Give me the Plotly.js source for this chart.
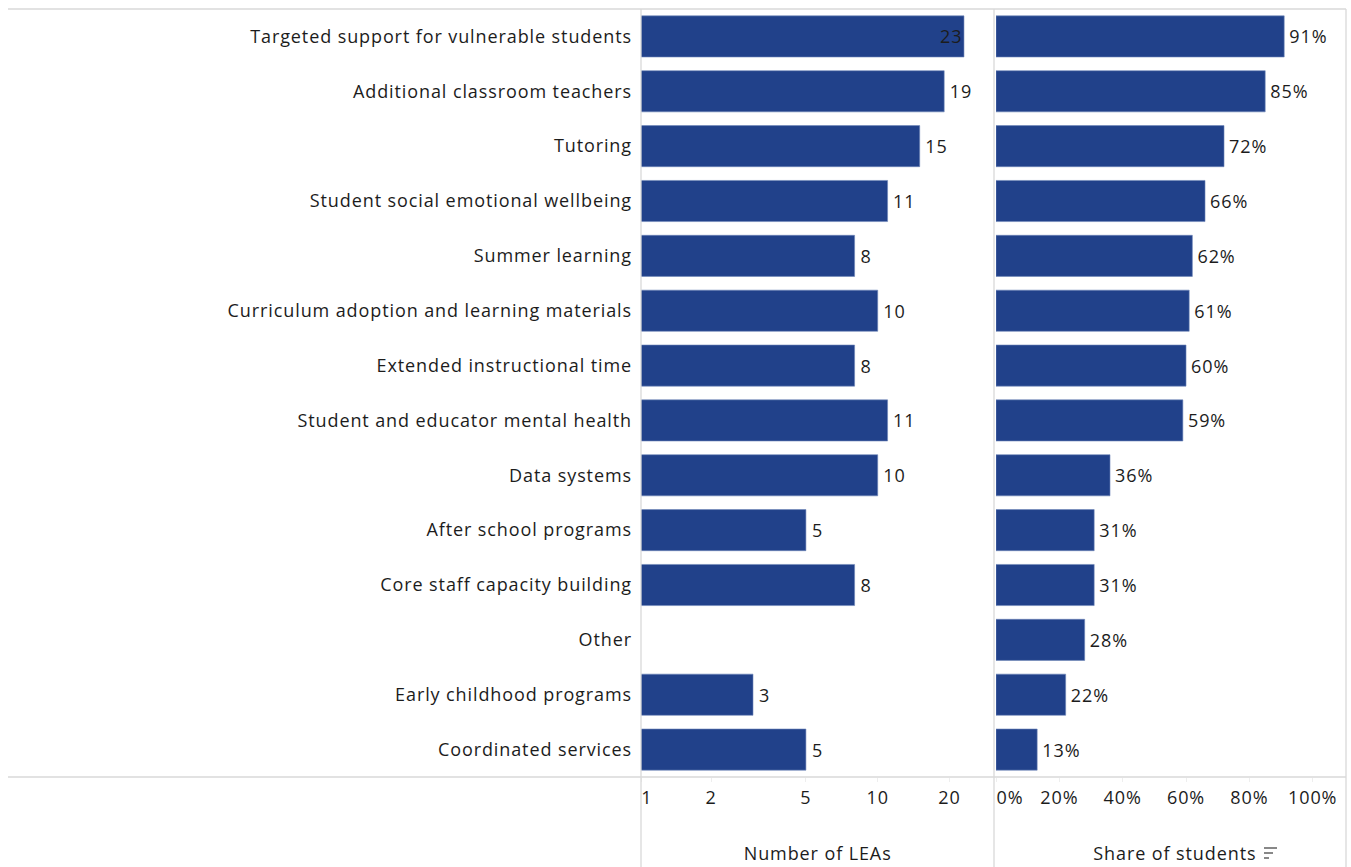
<!DOCTYPE html>
<html>
<head>
<meta charset="utf-8">
<script src="https://cdn.plot.ly/plotly-3.0.1.min.js"></script>
<style>
html,body{margin:0;padding:0;background:#fff;}
#chart{width:1351px;height:867px;}
#chart svg text{letter-spacing:0.9px;}
</style>
</head>
<body>
<div id="chart"></div>
<script>
const categories = [
  "Targeted support for vulnerable students",
  "Additional classroom teachers",
  "Tutoring",
  "Student social emotional wellbeing",
  "Summer learning",
  "Curriculum adoption and learning materials",
  "Extended instructional time",
  "Student and educator mental health",
  "Data systems",
  "After school programs",
  "Core staff capacity building",
  "Other",
  "Early childhood programs",
  "Coordinated services"
];
const numberOfLEAs = [23, 19, 15, 11, 8, 10, 8, 11, 10, 5, 8, null, 3, 5];
const shareOfStudents = [91, 85, 72, 66, 62, 61, 60, 59, 36, 31, 31, 28, 22, 13];
const leaTickVals = [1.02, 2, 5, 10, 20];
const leaTickText = ["\u00a0\u00a01", "2", "5", "10", "20"];
const shareTickVals = [0, 20, 40, 60, 80, 100];
const shareTickText = ["\u00a0\u00a0\u00a0\u00a0\u00a00%", "20%", "40%", "60%", "80%", "100%"];

const W = 1351, H = 867;
const barColor = "#21418a";
const lineColor = "#d9d9d9";
const FONT = "'Open Sans', sans-serif";
const FS = 18;
const TC = "#1c1c1c";

const leaText = numberOfLEAs.map(v => v == null ? "" : "\u2009" + v);
const leaPos = numberOfLEAs.map(v => (v != null && v >= 22) ? "inside" : "outside");
const shareText = shareOfStudents.map(v => "\u2009" + v + "%");

const traces = [
  {
    type: "bar", orientation: "h",
    y: categories, x: numberOfLEAs,
    xaxis: "x", yaxis: "y",
    marker: {color: barColor, line: {color: "#6f86b8", width: 0.6}},
    text: leaText, textposition: leaPos, insidetextanchor: "end",
    textfont: {color: TC, size: FS, family: FONT},
    insidetextfont: {color: TC, size: FS, family: FONT},
    outsidetextfont: {color: TC, size: FS, family: FONT},
    constraintext: "none", cliponaxis: false, hoverinfo: "x+y"
  },
  {
    type: "bar", orientation: "h",
    y: categories, x: shareOfStudents,
    xaxis: "x2", yaxis: "y2",
    marker: {color: barColor, line: {color: "#6f86b8", width: 0.6}},
    text: shareText, textposition: "outside",
    textfont: {color: TC, size: FS, family: FONT},
    constraintext: "none", cliponaxis: false, hoverinfo: "x+y"
  }
];

const px = x => x / W;
const plotTop = 9, plotBot = 777;
const plotH = plotBot - plotTop;
const py = y => (plotBot - y) / plotH;

const leftX0 = 641, leftX1 = 994, rightX0 = 996, rightX1 = 1346;
const logSlope = 238.5, logStart = 0.0075;
const leaRange = [logStart, logStart + (leftX1 - leftX0) / logSlope];
const pctPerPx = 100 / 316.7;
const shareRange = [0, (rightX1 - rightX0) * pctPerPx];

const shapes = [];
function hline(x0, x1, y) {
  shapes.push({type: "line", xref: "paper", yref: "paper", x0: px(x0), x1: px(x1), y0: py(y), y1: py(y),
    line: {color: lineColor, width: 1.3}});
}
function vline(x, y0, y1) {
  shapes.push({type: "line", xref: "paper", yref: "paper", x0: px(x), x1: px(x), y0: py(y0), y1: py(y1),
    line: {color: lineColor, width: 1.3}});
}
hline(8, 1346, 9);
hline(8, 1346, 777);
vline(leftX0, 9, 867);
vline(leftX1, 9, 867);
vline(rightX1, 9, 867);
// sort icon next to "Share of students"
const iconX = 1264, iconY = 848;
[[0, 13], [0, 9], [0, 5]].forEach((s, i) => {
  shapes.push({type: "line", xref: "paper", yref: "paper",
    x0: px(iconX + s[0]), x1: px(iconX + s[1]), y0: py(iconY + i * 5), y1: py(iconY + i * 5),
    line: {color: "#555", width: 1.4}});
});

const tickFont = {size: FS, color: TC, family: FONT};
const layout = {
  width: W, height: H,
  margin: {l: 0, r: 0, t: plotTop, b: H - plotBot, pad: 0},
  paper_bgcolor: "#fff", plot_bgcolor: "rgba(0,0,0,0)",
  showlegend: false,
  bargap: 0.25,
  font: {family: FONT, color: TC, size: FS},
  xaxis: {
    domain: [px(leftX0), px(leftX1)], type: "log", range: leaRange,
    tickvals: leaTickVals, ticktext: leaTickText,
    showgrid: false, zeroline: false, showline: false,
    ticks: "outside", ticklen: 4, tickcolor: "#eeeeee",
    tickfont: tickFont, fixedrange: true
  },
  xaxis2: {
    domain: [px(rightX0), px(rightX1)], range: shareRange, anchor: "y2",
    tickvals: shareTickVals, ticktext: shareTickText,
    showgrid: false, zeroline: false, showline: false,
    ticks: "outside", ticklen: 4, tickcolor: "#eeeeee",
    tickfont: tickFont, fixedrange: true
  },
  yaxis: {
    type: "category", categoryorder: "array", categoryarray: categories,
    autorange: "reversed", showgrid: false, zeroline: false, showline: false,
    ticks: "", ticklabelstandoff: 8,
    tickfont: tickFont, fixedrange: true
  },
  yaxis2: {
    type: "category", categoryorder: "array", categoryarray: categories,
    autorange: "reversed", anchor: "x2", matches: "y",
    showticklabels: false, showgrid: false, zeroline: false, showline: false, fixedrange: true
  },
  annotations: [
    {text: "Number of LEAs", xref: "paper", yref: "paper", x: px((leftX0 + leftX1) / 2), y: py(853),
      xanchor: "center", yanchor: "middle", showarrow: false, font: tickFont},
    {text: "Share of students", xref: "paper", yref: "paper", x: px(1251), y: py(853),
      xanchor: "right", yanchor: "middle", showarrow: false, font: tickFont}
  ],
  shapes: shapes
};

Plotly.newPlot("chart", traces, layout, {displayModeBar: false, staticPlot: true});
</script>
</body>
</html>
